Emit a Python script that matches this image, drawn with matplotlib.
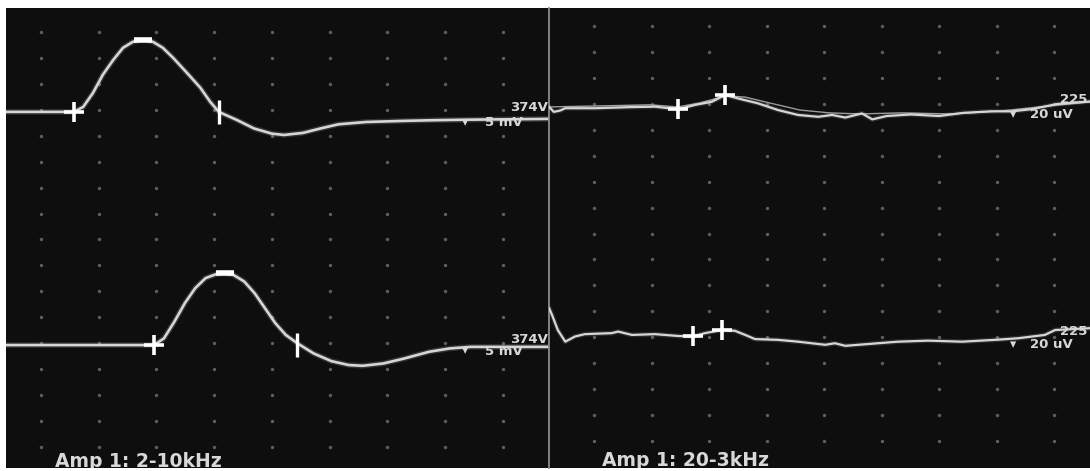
import numpy as np
import matplotlib.pyplot as plt

# screen grid: 9 dot columns x 17 dot rows in each panel (units = divisions)
grid_cols = np.arange(9)
grid_rows = -np.arange(17)

# left panel (Amp 1: 2-10kHz), time in div, amplitude in div above baseline
lt_t = [-0.61, 0.57, 0.73, 0.90, 1.07, 1.25, 1.42, 1.59, 1.77, 1.94, 2.11, 2.29, 2.53, 2.76,
        2.93, 3.08, 3.40, 3.69, 4.00, 4.21, 4.54, 4.84, 5.15, 5.63, 6.24, 6.83, 7.44, 8.80]
lt_v = [0.0, 0.0, 0.19, 0.73, 1.43, 2.00, 2.47, 2.70, 2.78, 2.70, 2.47, 2.08, 1.50, 0.93,
        0.39, 0.0, -0.32, -0.64, -0.84, -0.89, -0.81, -0.64, -0.48, -0.39, -0.35, -0.32, -0.30, -0.27]
lb_t = [-0.61, 1.96, 2.13, 2.31, 2.49, 2.67, 2.85, 3.03, 3.18, 3.33, 3.52, 3.70, 3.88,
        4.06, 4.24, 4.44, 4.72, 5.03, 5.33, 5.57, 5.93, 6.29, 6.72, 7.08, 7.44, 8.80]
lb_v = [0.0, 0.0, 0.26, 0.90, 1.61, 2.19, 2.58, 2.73, 2.76, 2.71, 2.45, 2.00, 1.42,
        0.84, 0.39, 0.07, -0.32, -0.62, -0.77, -0.80, -0.71, -0.52, -0.26, -0.13, -0.07, -0.07]

# right panel (Amp 1: 20-3kHz)
rt_t = [-0.78, -0.70, -0.59, -0.50, 0.02, 0.59, 1.06, 1.46, 1.76, 2.05, 2.28, 2.50, 2.85, 3.20,
        3.55, 3.90, 4.14, 4.37, 4.48, 4.66, 4.84, 5.09, 5.51, 6.00, 6.42, 6.90, 7.27, 7.63,
        8.05, 8.50, 8.63]
rt_v = [0.04, -0.15, -0.10, -0.01, -0.01, 0.03, 0.05, -0.05, 0.12, 0.24, 0.50, 0.37, 0.18, -0.08,
        -0.27, -0.34, -0.27, -0.37, -0.31, -0.21, -0.44, -0.31, -0.25, -0.31, -0.19, -0.13, -0.13, -0.04,
        0.15, 0.23, 0.25]
rt2_t = [-0.78, 0.10, 0.97, 1.46, 1.84, 2.28, 2.63, 3.06, 3.58, 4.10, 4.63, 5.32, 6.19, 7.06, 7.93, 8.63]
rt2_v = [0.04, 0.08, 0.12, 0.04, 0.19, 0.46, 0.42, 0.19, -0.08, -0.19, -0.23, -0.19, -0.23, -0.12, 0.08, 0.23]
rb_t = [-0.78, -0.73, -0.63, -0.50, -0.33, -0.16, 0.31, 0.42, 0.66, 1.06, 1.46, 1.72, 1.93, 2.23,
        2.45, 2.63, 2.80, 3.20, 3.55, 4.02, 4.19, 4.37, 4.94, 5.29, 5.81, 6.40, 6.97, 7.37,
        7.84, 8.02, 8.63]
rb_v = [0.99, 0.73, 0.15, -0.30, -0.10, -0.01, 0.03, 0.09, -0.04, -0.01, -0.08, -0.10, 0.03, 0.15,
        0.12, -0.04, -0.20, -0.23, -0.30, -0.42, -0.36, -0.46, -0.36, -0.30, -0.26, -0.30, -0.23, -0.17,
        -0.04, 0.15, 0.22]

# cursor marks (time, amplitude)
lt_marks = {'+': (0.57, 0.0), '_': (1.77, 2.78), '|': (3.08, 0.0)}
lb_marks = {'+': (1.96, 0.0), '_': (3.18, 2.76), '|': (4.44, 0.0)}
rt_marks = [(1.46, -0.05), (2.28, 0.50)]
rb_marks = [(1.72, -0.10), (2.23, 0.15)]

left_base = [-3.08, -12.07]
right_base = [-3.16, -11.87]
left_labels = ['374V', '5 mV', 'Amp 1: 2-10kHz']
right_labels = ['225', '20 uV', 'Amp 1: 20-3kHz']

BG = '#0e0e0e'
TRACE = '#d6d6d6'
DOT = '#5e5e5e'
TXT = '#d8d8d8'

W, H = 1090, 471
fig = plt.figure(figsize=(W / 100, H / 100), dpi=100, facecolor='white')


def px_axes(x0, x1, y0, y1):
    return fig.add_axes([x0 / W, 1 - y1 / H, (x1 - x0) / W, (y1 - y0) / H])


ax_l = px_axes(6, 549, 7.5, 468)
ax_r = px_axes(549, 1090, 7.5, 468)
ax_l.set_xlim(-0.607, 8.80)
ax_l.set_ylim(-16.81, 0.944)
ax_r.set_xlim(-0.783, 8.626)
ax_r.set_ylim(-17.04, 0.713)

for ax in (ax_l, ax_r):
    ax.set_facecolor(BG)
    ax.set_xticks([])
    ax.set_yticks([])
    for s in ax.spines.values():
        s.set_visible(False)
    gx, gy = np.meshgrid(grid_cols, grid_rows)
    ax.scatter(gx.ravel(), gy.ravel(), s=6, color=DOT, lw=0, zorder=1)

ax_r.spines['left'].set_visible(True)
ax_r.spines['left'].set_color('#8c8c8c')
ax_r.spines['left'].set_linewidth(1.3)

font = ['DejaVu Sans']

# left traces
for (t, v, marks), base in zip([(lt_t, lt_v, lt_marks), (lb_t, lb_v, lb_marks)], left_base):
    y = np.array(v) + base
    ax_l.plot(t, y, color=TRACE, lw=4, alpha=0.18, zorder=2)
    ax_l.plot(t, y, color=TRACE, lw=1.9, zorder=3)
    mx, my = marks['+']
    ax_l.plot(mx, my + base, marker='+', ms=14, mew=2.6, color='white', zorder=4)
    mx, my = marks['_']
    ax_l.plot(mx, my + base, marker='_', ms=13, mew=4, color='white', zorder=4)
    mx, my = marks['|']
    ax_l.plot(mx, my + base, marker='|', ms=17, mew=2.4, color='white', zorder=4)

for base, dy in zip(left_base, [-0.42, -0.23]):
    ax_l.text(8.13, base + 0.15 + (dy + 0.42) * 0.3, left_labels[0], color=TXT, fontsize=9.5,
              fontweight='bold', family=font, va='center', ha='left', clip_on=True, zorder=5)
    ax_l.text(7.35, base + dy, '\u25be', color=TXT, fontsize=9, family=font,
              va='center', ha='center', zorder=5)
    ax_l.text(7.69, base + dy, left_labels[1], color=TXT, fontsize=9.5, fontweight='bold',
              family=font, va='center', ha='left', zorder=5)

ax_l.text(0.24, -16.77, left_labels[2], color=TXT, fontsize=13.5, fontweight='bold',
          family=font, va='baseline', ha='left', clip_on=True, zorder=5)

# right traces
ax_r.plot(rt2_t, np.array(rt2_v) + right_base[0], color='#9a9a9a', lw=1.0, zorder=2)
for (t, v, marks), base in zip([(rt_t, rt_v, rt_marks), (rb_t, rb_v, rb_marks)], right_base):
    y = np.array(v) + base
    ax_r.plot(t, y, color=TRACE, lw=3.5, alpha=0.15, zorder=2)
    ax_r.plot(t, y, color=TRACE, lw=1.6, zorder=3)
    for mx, my in marks:
        ax_r.plot(mx, my + base, marker='+', ms=14, mew=2.6, color='white', zorder=4)

for base, up, dy in zip(right_base, [0.31, 0.09], [-0.27, -0.40]):
    ax_r.text(8.58, base + up, right_labels[0], color=TXT, fontsize=9.5, fontweight='bold',
              family=font, va='center', ha='right', zorder=5)
    ax_r.text(7.28, base + dy, '\u25be', color=TXT, fontsize=9, family=font,
              va='center', ha='center', zorder=5)
    ax_r.text(7.58, base + dy, right_labels[1], color=TXT, fontsize=9.5, fontweight='bold',
              family=font, va='center', ha='left', zorder=5)

ax_r.text(0.14, -16.96, right_labels[2], color=TXT, fontsize=13.5, fontweight='bold',
          family=font, va='baseline', ha='left', clip_on=True, zorder=5)

fig.savefig('out.png', dpi=100, facecolor='white')
